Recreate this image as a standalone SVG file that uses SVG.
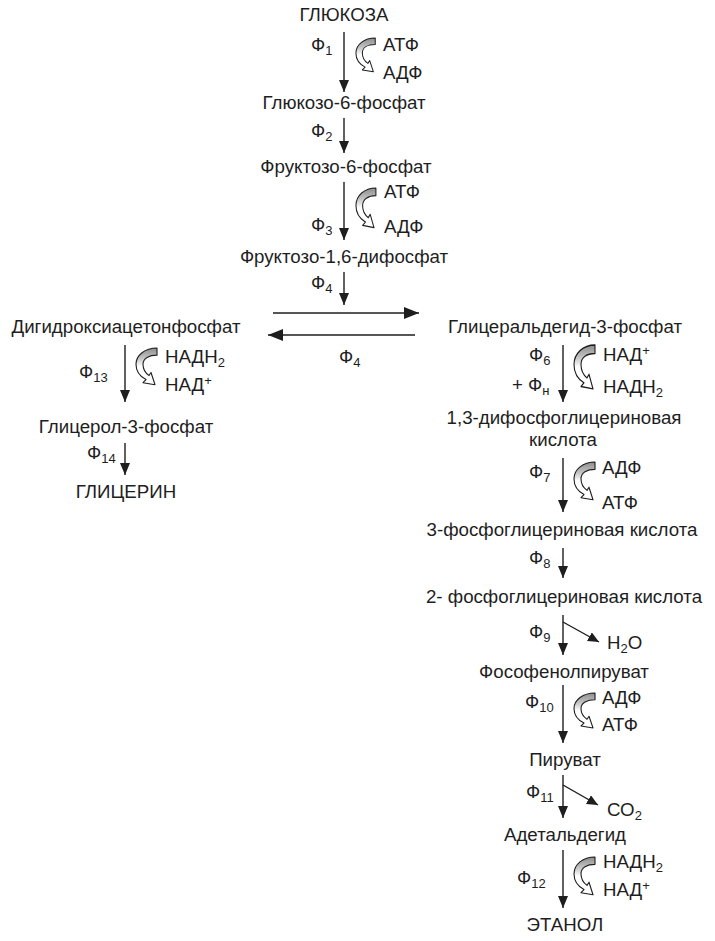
<svg xmlns="http://www.w3.org/2000/svg" xmlns:xlink="http://www.w3.org/1999/xlink" width="715" height="941" viewBox="0 0 715 941">
<style>
text{font-family:"Liberation Sans",Arial,sans-serif;font-size:18.7px;fill:#1e1e1e}
.m{text-anchor:middle}
.sub{font-size:13px}
.ln{stroke:#1e1e1e;stroke-width:1.4;fill:none}
.cv{fill:url(#g);stroke:#1e1e1e;stroke-width:1.1;stroke-linejoin:round}
</style>
<defs>
<linearGradient id="g" x1="0" y1="0" x2="0" y2="1">
<stop offset="0" stop-color="#8c8c8c"/>
<stop offset="0.3" stop-color="#c8c8c8"/>
<stop offset="0.5" stop-color="#ffffff"/>
<stop offset="1" stop-color="#ffffff"/>
</linearGradient>
<marker id="a" markerUnits="userSpaceOnUse" viewBox="0 0 12 10" markerWidth="12" markerHeight="10" refX="12" refY="5" orient="auto">
<path d="M0,0 L12,5 L0,10 z" fill="#1e1e1e"/>
</marker>
<marker id="ah" markerUnits="userSpaceOnUse" viewBox="0 0 15 12" markerWidth="15" markerHeight="12" refX="15" refY="6" orient="auto">
<path d="M0,0 L15,6 L0,12 z" fill="#1e1e1e"/>
</marker>
<marker id="ad" markerUnits="userSpaceOnUse" viewBox="0 0 11 10" markerWidth="11" markerHeight="10" refX="11" refY="5" orient="auto">
<path d="M0,0 L11,5 L0,10 z" fill="#1e1e1e"/>
</marker>
<path id="cv" d="M22,0 C10,0 1,7 1,16 C1,23 5,28 11,31 L8,34 L20,36 L16,24 L14,27 C11,25 8,21 8,16 C8,10 14,7 22,7 Z"/>
</defs>

<g id="connectors">
<line class="ln" x1="344" y1="32" x2="344" y2="92" marker-end="url(#a)"/>
<line class="ln" x1="344" y1="118" x2="344" y2="153" marker-end="url(#a)"/>
<line class="ln" x1="344" y1="182" x2="344" y2="240" marker-end="url(#a)"/>
<line class="ln" x1="344" y1="272" x2="344" y2="305" marker-end="url(#a)"/>
<line class="ln" x1="273" y1="313" x2="419" y2="313" marker-end="url(#ah)"/>
<line class="ln" x1="415" y1="335" x2="268" y2="335" marker-end="url(#ah)"/>
<line class="ln" x1="125" y1="345" x2="125" y2="402" marker-end="url(#a)"/>
<line class="ln" x1="125" y1="443" x2="125" y2="475" marker-end="url(#a)"/>
<line class="ln" x1="563" y1="345" x2="563" y2="402" marker-end="url(#a)"/>
<line class="ln" x1="563" y1="458" x2="563" y2="512" marker-end="url(#a)"/>
<line class="ln" x1="563" y1="548" x2="563" y2="578" marker-end="url(#a)"/>
<line class="ln" x1="563" y1="615" x2="563" y2="655" marker-end="url(#a)"/>
<line class="ln" x1="563" y1="622" x2="599" y2="642" marker-end="url(#ad)"/>
<line class="ln" x1="563" y1="685" x2="563" y2="743" marker-end="url(#a)"/>
<line class="ln" x1="563" y1="775" x2="563" y2="818" marker-end="url(#a)"/>
<line class="ln" x1="563" y1="785" x2="598" y2="805" marker-end="url(#ad)"/>
<line class="ln" x1="563" y1="850" x2="563" y2="908" marker-end="url(#a)"/>
<use href="#cv" class="cv" transform="translate(355,38) scale(0.92,0.94)"/>
<use href="#cv" class="cv" transform="translate(355,188) scale(0.95,1.1)"/>
<use href="#cv" class="cv" transform="translate(135,348) scale(1,1.02)"/>
<use href="#cv" class="cv" transform="translate(573,345) scale(1,1.22)"/>
<use href="#cv" class="cv" transform="translate(573,462) scale(1,1.05)"/>
<use href="#cv" class="cv" transform="translate(573,693) scale(1,0.97)"/>
<use href="#cv" class="cv" transform="translate(573,857) scale(1,1.05)"/>
</g>

<g id="labels">
<text x="311" y="51">Ф<tspan class="sub" dy="4">1</tspan></text>
<text x="311" y="137">Ф<tspan class="sub" dy="4">2</tspan></text>
<text x="311" y="231">Ф<tspan class="sub" dy="4">3</tspan></text>
<text x="311" y="289">Ф<tspan class="sub" dy="4">4</tspan></text>
<text x="339" y="363">Ф<tspan class="sub" dy="4">4</tspan></text>
<text x="79" y="378">Ф<tspan class="sub" dy="4">13</tspan></text>
<text x="87" y="459">Ф<tspan class="sub" dy="4">14</tspan></text>
<text x="529" y="361">Ф<tspan class="sub" dy="4">6</tspan></text>
<text x="512" y="391">+ Ф<tspan class="sub" dy="4">н</tspan></text>
<text x="529" y="478">Ф<tspan class="sub" dy="4">7</tspan></text>
<text x="529" y="564">Ф<tspan class="sub" dy="4">8</tspan></text>
<text x="529" y="638">Ф<tspan class="sub" dy="4">9</tspan></text>
<text x="525" y="708">Ф<tspan class="sub" dy="4">10</tspan></text>
<text x="526" y="798">Ф<tspan class="sub" dy="4">11</tspan></text>
<text x="517" y="884">Ф<tspan class="sub" dy="4">12</tspan></text>
<text x="383" y="51">АТФ</text>
<text x="383" y="79">АДФ</text>
<text x="384" y="198">АТФ</text>
<text x="384" y="233">АДФ</text>
<text x="165" y="363">НАДН<tspan class="sub" dy="4">2</tspan></text>
<text x="165" y="391">НАД<tspan class="sub" dy="-6">+</tspan></text>
<text x="603" y="361">НАД<tspan class="sub" dy="-6">+</tspan></text>
<text x="603" y="393">НАДН<tspan class="sub" dy="4">2</tspan></text>
<text x="602" y="474">АДФ</text>
<text x="602" y="509">АТФ</text>
<text x="607" y="649">Н<tspan class="sub" dy="4">2</tspan><tspan dy="-4">О</tspan></text>
<text x="602" y="704">АДФ</text>
<text x="602" y="731">АТФ</text>
<text x="607" y="816">СО<tspan class="sub" dy="4">2</tspan></text>
<text x="603" y="868">НАДН<tspan class="sub" dy="4">2</tspan></text>
<text x="603" y="896">НАД<tspan class="sub" dy="-6">+</tspan></text>
</g>

<g id="n-glucose"><text class="m" x="344" y="21">ГЛЮКОЗА</text></g>
<g id="n-g6p"><text class="m" x="344" y="109">Глюкозо-6-фосфат</text></g>
<g id="n-f6p"><text class="m" x="346" y="173">Фруктозо-6-фосфат</text></g>
<g id="n-f16p"><text class="m" x="344" y="263">Фруктозо-1,6-дифосфат</text></g>
<g id="n-dhap"><text class="m" x="126" y="333">Дигидроксиацетонфосфат</text></g>
<g id="n-gap"><text class="m" x="565" y="333">Глицеральдегид-3-фосфат</text></g>
<g id="n-g3p"><text class="m" x="126" y="433">Глицерол-3-фосфат</text></g>
<g id="n-glycerol"><text class="m" x="126" y="498">ГЛИЦЕРИН</text></g>
<g id="n-13bpg"><text class="m" x="564" y="424">1,3-дифосфоглицериновая</text><text class="m" x="563" y="446">кислота</text></g>
<g id="n-3pg"><text class="m" x="562" y="536">3-фосфоглицериновая кислота</text></g>
<g id="n-2pg"><text class="m" x="564" y="603">2- фосфоглицериновая кислота</text></g>
<g id="n-pep"><text class="m" x="564" y="678">Фософенолпируват</text></g>
<g id="n-pyruvate"><text class="m" x="565" y="766">Пируват</text></g>
<g id="n-acetaldehyde"><text class="m" x="565" y="841">Адетальдегид</text></g>
<g id="n-ethanol"><text class="m" x="565" y="931">ЭТАНОЛ</text></g>
</svg>
